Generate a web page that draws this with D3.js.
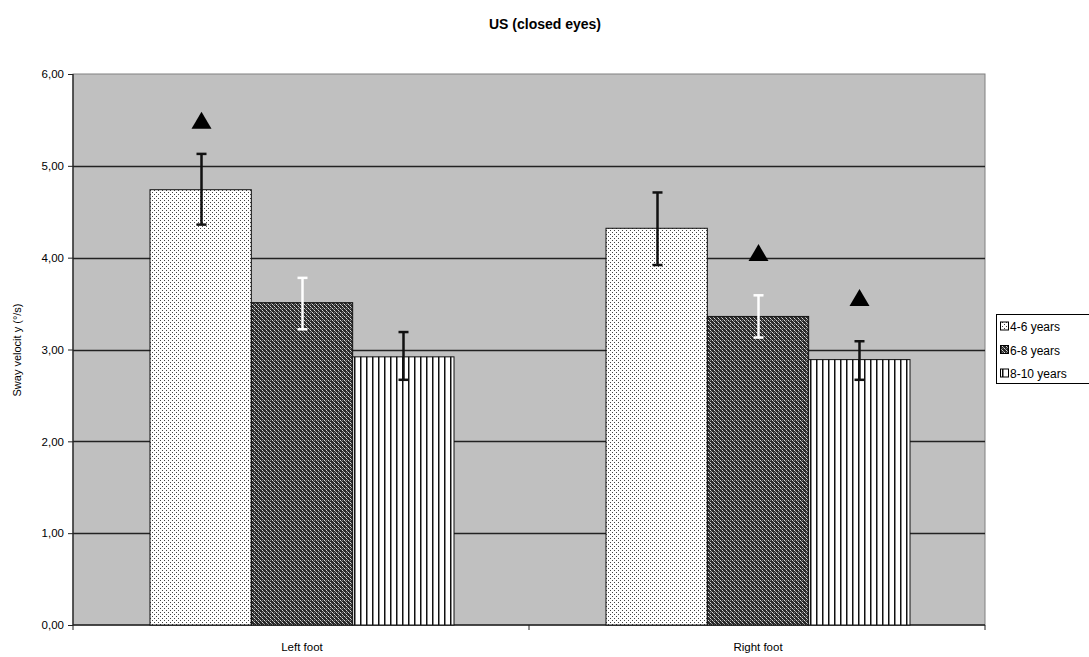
<!DOCTYPE html>
<html><head><meta charset="utf-8">
<script src="https://cdn.jsdelivr.net/npm/d3@7"></script>
<style>body{margin:0;background:#fff}svg{display:block}</style>
</head><body>
<svg id="c" width="1089" height="657"></svg>
<script>
const categories = ["Left foot", "Right foot"];
const seriesNames = ["4-6 years", "6-8 years", "8-10 years"];
const means = [[4.74, 4.32], [3.51, 3.36], [2.92, 2.89]];
const errLow = [[4.36, 3.92], [3.22, 3.13], [2.67, 2.67]];
const errHigh = [[5.13, 4.71], [3.78, 3.59], [3.19, 3.09]];
const markers = [[5.49, null], [null, 4.05], [null, 3.56]];
const yTicks = [0, 1, 2, 3, 4, 5, 6];

const svg = d3.select("#c");
const L = 73, R = 985, T = 74, B = 625;
const font = "Liberation Sans, Arial, sans-serif";

// patterns
const defs = svg.append("defs");
const p1 = defs.append("pattern").attr("id","p0").attr("width",4).attr("height",4).attr("patternUnits","userSpaceOnUse");
p1.append("rect").attr("width",4).attr("height",4).attr("fill","#fff");
p1.append("rect").attr("x",0).attr("y",0).attr("width",1).attr("height",1).attr("fill","#444");
p1.append("rect").attr("x",2).attr("y",2).attr("width",1).attr("height",1).attr("fill","#444");
const p2 = defs.append("pattern").attr("id","p1").attr("width",4).attr("height",4).attr("patternUnits","userSpaceOnUse");
p2.append("rect").attr("width",4).attr("height",4).attr("fill","#2a2a2a");
p2.append("rect").attr("x",0).attr("y",0).attr("width",1).attr("height",1).attr("fill","#ddd");
p2.append("rect").attr("x",2).attr("y",2).attr("width",1).attr("height",1).attr("fill","#ddd");
p2.append("rect").attr("x",1).attr("y",1).attr("width",1).attr("height",1).attr("fill","#999");
p2.append("rect").attr("x",3).attr("y",3).attr("width",1).attr("height",1).attr("fill","#999");
p2.append("rect").attr("x",2).attr("y",0).attr("width",1).attr("height",1).attr("fill","#777");
const p3 = defs.append("pattern").attr("id","p2").attr("width",6).attr("height",4).attr("patternUnits","userSpaceOnUse");
p3.append("rect").attr("width",6).attr("height",4).attr("fill","#fff");
p3.append("rect").attr("x",0).attr("y",0).attr("width",1.5).attr("height",4).attr("fill","#111");

const x0 = d3.scaleBand().domain(categories).range([L + 1, R + 1]).paddingInner(0).paddingOuter(0);
const groupW = 304;
const xs = d3.scaleBand().domain([0,1,2]).range([(x0.bandwidth()-groupW)/2, (x0.bandwidth()+groupW)/2]);
const y = d3.scaleLinear().domain([0, 6]).range([B, T]);

// plot background
svg.append("rect").attr("x",L).attr("y",T).attr("width",R-L).attr("height",B-T).attr("fill","#c0c0c0").attr("stroke","#808080").attr("stroke-width",1);

// gridlines
svg.append("g").selectAll("line").data(yTicks.filter(d=>d>0 && d<6)).join("line")
  .attr("x1",L).attr("x2",R).attr("y1",d=>Math.round(y(d))+0.5).attr("y2",d=>Math.round(y(d))+0.5)
  .attr("stroke","#222").attr("stroke-width",1.3);

// y axis
const yAxis = d3.axisLeft(y).tickValues(yTicks).tickSize(5).tickFormat(d=>d3.format(".2f")(d).replace(".",","));
const ga = svg.append("g").attr("transform",`translate(${L},0)`).call(yAxis);
ga.select(".domain").attr("stroke","#222").attr("stroke-width",1.3).attr("d",`M0,${T}V${B}`);
ga.selectAll(".tick line").attr("stroke","#222");
ga.selectAll("text").attr("font-family",font).attr("font-size",11.5).attr("fill","#000").attr("x",-9);

// x axis
const xAxis = d3.axisBottom(x0).tickValues([]).tickSize(0);
const gx = svg.append("g").attr("transform",`translate(0,${B})`).call(xAxis);
gx.select(".domain").attr("stroke","#222").attr("stroke-width",1.5).attr("d",`M${L},0H${R}`);
svg.append("g").selectAll("line").data([L, (L+R)/2, R]).join("line")
  .attr("x1",d=>d).attr("x2",d=>d).attr("y1",B).attr("y2",B+5).attr("stroke","#222");
svg.append("g").selectAll("text").data(categories).join("text")
  .attr("x",d=>x0(d)+x0.bandwidth()/2).attr("y",651).attr("text-anchor","middle")
  .attr("font-family",font).attr("font-size",11.5).text(d=>d);

// bars
seriesNames.forEach((s,i)=>{
  const g = svg.append("g");
  g.selectAll("rect").data(categories).join("rect")
    .attr("x",(c)=>x0(c)+xs(i)).attr("width",xs.bandwidth())
    .attr("y",(c,j)=>y(means[i][j])).attr("height",(c,j)=>B-y(means[i][j]))
    .attr("fill",`url(#p${i})`).attr("stroke","#111").attr("stroke-width",1);
  const ec = i===1 ? "#fff" : "#111";
  categories.forEach((c,j)=>{
    const cx = Math.round(x0(c)+xs(i)+xs.bandwidth()/2)+0.5;
    const yh = y(errHigh[i][j]), yl = y(errLow[i][j]);
    g.append("line").attr("x1",cx).attr("x2",cx).attr("y1",yh).attr("y2",yl).attr("stroke",ec).attr("stroke-width",2.5);
    g.append("line").attr("x1",cx-5).attr("x2",cx+5).attr("y1",yh).attr("y2",yh).attr("stroke",ec).attr("stroke-width",2.5);
    g.append("line").attr("x1",cx-5).attr("x2",cx+5).attr("y1",yl).attr("y2",yl).attr("stroke",ec).attr("stroke-width",2.5);
    if (markers[i][j] != null) {
      const my = y(markers[i][j]);
      g.append("path").attr("d",`M${cx-10},${my+8}L${cx},${my-9}L${cx+10},${my+8}Z`).attr("fill","#000");
    }
  });
});

// title
svg.append("text").attr("x",545).attr("y",29).attr("text-anchor","middle").attr("font-family",font)
  .attr("font-weight","bold").attr("font-size",14).text("US (closed eyes)");

// y label
svg.append("text").attr("transform","translate(21,350) rotate(-90)").attr("text-anchor","middle")
  .attr("font-family",font).attr("font-size",11).text("Sway velocit y (°/s)");

// legend
const lg = svg.append("g");
lg.append("rect").attr("x",996.5).attr("y",314.5).attr("width",100).attr("height",69).attr("fill","#fff").attr("stroke","#000");
seriesNames.forEach((s,i)=>{
  const yy = 326.5 + i*23.5;
  lg.append("rect").attr("x",1000.5).attr("y",yy-4.5).attr("width",8).attr("height",8).attr("fill",`url(#p${i})`).attr("stroke","#000");
  lg.append("text").attr("x",1010).attr("y",yy+4.5).attr("font-family",font).attr("font-size",12).text(s);
});
</script>
</body></html>
